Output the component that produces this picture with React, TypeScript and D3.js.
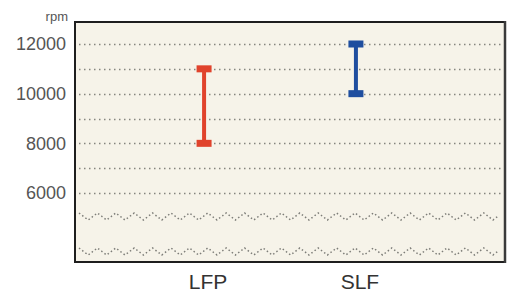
import { useEffect, useRef } from 'react'
import * as d3 from 'd3'

// categories and rpm ranges
const categories = ['LFP', 'SLF']
const rpmLow = [8000, 10000]
const rpmHigh = [11000, 12000]
const barColors = ['#e0432c', '#1f4e9f']
const yTicks = [6000, 8000, 10000, 12000]
const gridTicks = [6000, 7000, 8000, 9000, 10000, 11000, 12000]

export default function App() {
  const ref = useRef<SVGSVGElement>(null)

  useEffect(() => {
    const width = 509
    const height = 293
    const box = { left: 75, top: 22, right: 505, bottom: 262 }

    const svg = d3.select(ref.current)
    svg.selectAll('*').remove()
    svg.attr('width', width).attr('height', height)
      .attr('viewBox', [0, 0, width, height])
      .style('display', 'block')
      .style('font-family', '"Liberation Sans", Arial, sans-serif')

    const y = d3.scaleLinear().domain([6000, 12000]).range([193, 44])
    const x = d3.scalePoint<string>()
      .domain(categories)
      .range([box.left, box.left + 410])
      .padding(0.85)

    // plot background
    svg.append('rect')
      .attr('x', box.left).attr('y', box.top)
      .attr('width', box.right - box.left).attr('height', box.bottom - box.top)
      .attr('fill', '#f6f3e9')

    // dotted grid lines
    svg.append('g')
      .selectAll('line')
      .data(gridTicks)
      .join('line')
      .attr('x1', box.left + 4).attr('x2', box.right - 3)
      .attr('y1', d => Math.round(y(d)) + 0.5).attr('y2', d => Math.round(y(d)) + 0.5)
      .attr('stroke', '#85857f')
      .attr('stroke-width', 1.5)
      .attr('stroke-dasharray', '1.5,3.5')

    // zigzag break lines
    const zig = d3.line<number>()
      .x(d => box.left + 4 + d * 4.6)
      .y((d, i) => (i % 4 === 0 ? 0 : i % 4 === 2 ? 7 : 3.5))
    const steps = d3.range(0, Math.floor((box.right - box.left - 7) / 4.6) + 1)
    svg.append('g')
      .selectAll('path')
      .data([213, 248])
      .join('path')
      .attr('transform', d => `translate(0,${d})`)
      .attr('d', zig(steps))
      .attr('fill', 'none')
      .attr('stroke', '#7d7d78')
      .attr('stroke-width', 1.5)
      .attr('stroke-dasharray', '1.5,2.5')

    // range bars
    const bars = svg.append('g')
      .selectAll('g')
      .data(categories)
      .join('g')
      .attr('fill', (d, i) => barColors[i])
      .attr('stroke', (d, i) => barColors[i])

    bars.append('line')
      .attr('x1', d => x(d)!).attr('x2', d => x(d)!)
      .attr('y1', (d, i) => y(rpmHigh[i])).attr('y2', (d, i) => y(rpmLow[i]))
      .attr('stroke-width', 4)
    bars.selectAll('rect')
      .data((d, i) => [rpmHigh[i], rpmLow[i]].map(v => ({ c: d, v })))
      .join('rect')
      .attr('x', d => x(d.c)! - 7.5).attr('y', d => y(d.v) - 3.5)
      .attr('width', 15).attr('height', 7)
      .attr('stroke', 'none')

    // frame
    svg.append('path')
      .attr('d', `M${box.right},${box.top}H${box.left}V${box.bottom}H${box.right}`)
      .attr('fill', 'none')
      .attr('stroke', '#1e1e1e')
      .attr('stroke-width', 2)
    svg.append('line')
      .attr('x1', box.right).attr('x2', box.right)
      .attr('y1', box.top - 1).attr('y2', box.bottom + 1)
      .attr('stroke', '#3a3a3a')
      .attr('stroke-width', 2.5)

    // y tick labels
    svg.append('g')
      .selectAll('text')
      .data(yTicks)
      .join('text')
      .attr('x', 66).attr('y', d => y(d))
      .attr('dy', '0.36em')
      .attr('text-anchor', 'end')
      .attr('fill', '#555')
      .attr('font-size', 18)
      .text(d => String(d))

    svg.append('text')
      .attr('x', 68).attr('y', 21)
      .attr('text-anchor', 'end')
      .attr('fill', '#555')
      .attr('font-size', 13)
      .text('rpm')

    // category labels
    svg.append('g')
      .selectAll('text')
      .data(categories)
      .join('text')
      .attr('x', d => x(d)! + 4).attr('y', 289)
      .attr('text-anchor', 'middle')
      .attr('fill', '#333')
      .attr('font-size', 21)
      .text(d => d)
  }, [])

  return <svg ref={ref} style={{ position: 'absolute', left: 0, top: 0 }} />
}
